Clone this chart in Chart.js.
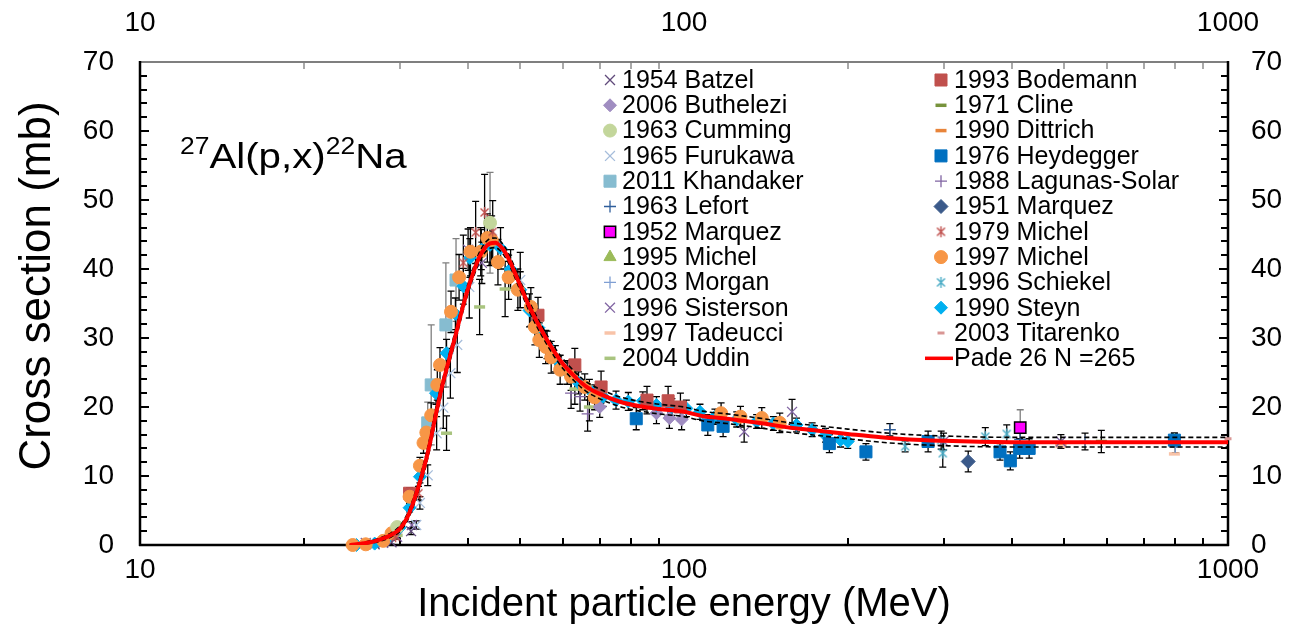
<!DOCTYPE html>
<html><head><meta charset="utf-8">
<script src="https://cdn.jsdelivr.net/npm/chart.js@4.4.1/dist/chart.umd.min.js"></script>
<style>html,body{margin:0;padding:0;background:#fff;}canvas{display:block;}</style>
</head><body>
<canvas id="c" width="1296" height="630"></canvas>
<script>
// ---------- tick labels ----------
const xTickLabels = [10, 100, 1000];
const yTickLabels = [0, 10, 20, 30, 40, 50, 60, 70];

// ---------- experimental data (E in MeV, S in mb, D = half error) ----------
const batzelE = [27.0, 29.0, 31.5];
const batzelS = [0.1, 0.4, 2.0];
const batzelD = [0, 0.3, 0.5];

const buthE = [70, 89, 94, 99];
const buthS = [20.0, 19.1, 18.4, 18.2];
const buthD = [1.5, 1.5, 1.5, 1.5];

const cummingE = [29.7, 44.0];
const cummingS = [2.6, 46.7];
const cummingD = [0.5, 7.3];

const furuE = [32.2, 32.7, 33.8, 35.1, 36.1, 37.2, 38.3, 40.3, 50.0];
const furuS = [2.9, 6.1, 10.1, 16.2, 19.9, 24.9, 29.0, 37.4, 38.4];
const furuD = [0.6, 0.9, 1.5, 2.4, 3.0, 3.6, 4.0, 4.5, 4.0];

const khanE = [33.8, 34.3, 36.5, 38.1];
const khanS = [17.7, 23.2, 31.9, 38.4];
const khanD = [3.0, 8.7, 9.0, 6.0];

const lefortE = [239, 415];
const lefortS = [16.7, 15.3];
const lefortD = [0.9, 1.5];

const marq52E = [415];
const marq52S = [17.0];
const marq52D = [2.6];

const mich95E = [797];
const mich95S = [15.2];
const mich95D = [1.0];

const morganE = [546, 800];
const morganS = [15.0, 14.2];
const morganD = [1.2, 0.8];

const sistE = [26.0, 28.0, 29.7, 31.6, 40.1, 42.5, 129, 158, 300, 493];
const sistS = [0.3, 0.3, 1.2, 2.9, 42.8, 40.9, 16.4, 19.3, 15.0, 15.0];
const sistD = [0.2, 0.2, 0.3, 0.5, 3.0, 3.0, 1.5, 1.8, 1.2, 1.0];

const tadE = [493, 797];
const tadS = [14.3, 13.2];
const tadD = [0, 0];

const uddinE = [29.7, 36.6, 42.1, 46.9, 63, 67];
const uddinS = [1.4, 16.2, 34.5, 37.1, 22.6, 20.0];
const uddinD = [0.3, 2.5, 4.0, 4.0, 2.2, 2.0];

const bodeE = [31.3, 53.9, 63, 70.4, 85.5, 93.5, 98.5];
const bodeS = [7.5, 33.3, 26.1, 22.9, 21.0, 20.9, 20.0];
const bodeD = [0.8, 2.6, 2.4, 2.3, 2.0, 2.1, 2.0];

const clineE = [585];
const clineS = [15.0];
const clineD = [1.6];

const dittE = [493, 800];
const dittS = [14.6, 15.6];
const dittD = [0, 0];

const heydE = [81.7, 110.6, 118, 185, 216, 281, 381, 398, 414, 431, 797];
const heydS = [18.3, 17.4, 17.2, 14.7, 13.5, 15.0, 13.5, 12.2, 14.0, 14.0, 15.2];
const heydD = [1.6, 1.5, 1.5, 1.3, 1.2, 1.5, 1.2, 1.3, 1.4, 1.4, 1.0];

const lagE = [62, 64.4, 66.5];
const lagS = [22.0, 21.5, 19.0];
const lagD = [2.2, 2.1, 2.5];

const marq51E = [333];
const marq51S = [12.1];
const marq51D = [1.5];

const mich79E = [29.5, 32.5, 39.3, 41.4, 43.0, 44.5];
const mich79S = [1.2, 7.5, 40.9, 45.3, 48.2, 45.4];
const mich79D = [0.3, 1.0, 4.0, 4.5, 5.5, 4.5];

const mich97E = [24.6, 26.0, 28.0, 29.0, 31.3, 32.7, 33.2, 33.6, 34.3, 35.2, 35.6, 37.3, 38.6, 40.5, 42.3, 43.5, 44.3, 45.5, 47.6, 49.5, 52.3, 53.2, 54.2, 55.7, 57.0, 59.2, 62.0, 65.7, 68.5, 117, 127, 139, 150];
const mich97S = [0.0, 0.1, 0.6, 1.7, 7.0, 11.5, 14.8, 16.3, 18.8, 23.2, 26.1, 33.8, 38.8, 42.5, 42.5, 44.5, 44.2, 41.0, 38.8, 37.0, 34.5, 31.6, 29.7, 28.7, 27.2, 25.4, 24.4, 22.9, 21.4, 19.1, 18.6, 18.4, 17.7];
const mich97D = [0.2, 0.2, 0.3, 0.4, 0.9, 1.2, 1.5, 1.6, 1.8, 2.2, 2.5, 3.0, 3.3, 3.5, 3.5, 3.5, 3.5, 3.3, 3.2, 3.0, 2.8, 2.6, 2.5, 2.4, 2.3, 2.1, 2.0, 1.9, 1.8, 1.5, 1.5, 1.5, 1.4];

const schE = [255, 297, 299, 358, 392];
const schS = [14.3, 15.2, 13.3, 15.7, 16.1];
const schD = [0.8, 1.3, 2.0, 1.3, 1.3];

const steynE = [25.0, 27.0, 28.5, 30.0, 31.3, 32.7, 33.8, 35.0, 36.6, 38.0, 39.3, 40.4, 42.4, 44.0, 46.0, 48.0, 50.0, 52.0, 54.0, 56.0, 58.0, 61.0, 64.0, 67.0, 71.0, 75.0, 79.0, 84.0, 89.0, 95.0, 101, 107, 114, 125, 136, 146, 161, 172, 182, 194, 200];
const steynS = [0.0, 0.2, 1.0, 2.5, 5.4, 9.9, 16.2, 22.0, 27.8, 33.5, 37.5, 41.6, 42.8, 43.5, 43.0, 40.0, 37.0, 34.0, 31.5, 29.0, 27.0, 25.0, 23.5, 22.5, 21.5, 21.0, 20.8, 20.9, 20.3, 20.0, 19.8, 19.3, 18.6, 18.2, 17.9, 17.6, 17.4, 16.7, 15.9, 15.2, 15.0];
const steynD = [0.1, 0.2, 0.3, 0.4, 0.6, 0.9, 1.3, 1.6, 2.0, 2.3, 2.6, 2.8, 2.9, 3.0, 3.0, 2.8, 2.6, 2.4, 2.2, 2.0, 1.9, 1.7, 1.6, 1.5, 1.4, 1.3, 1.3, 1.3, 1.2, 1.2, 1.2, 1.1, 1.1, 1.1, 1.0, 1.0, 1.0, 1.0, 1.0, 1.0, 1.0];

const titE = [1000];
const titS = [15.4];
const titD = [0];

// ---------- Pade fit and its confidence band ----------
const padeE = [24.3, 25, 26, 27, 28, 29, 30, 31, 32, 33, 34, 35, 36, 37, 38, 39, 40, 41, 42, 43, 44, 45, 46, 47, 48, 50, 52, 55, 58, 60, 63, 66, 70, 76, 83, 90, 100, 108, 120, 140, 157, 180, 200, 230, 260, 300, 350, 400, 500, 700, 1000];
const padeS = [0.0, 0.1, 0.3, 0.55, 0.95, 1.5, 2.3, 4.0, 6.8, 10.2, 14.2, 19.0, 23.3, 26.9, 30.3, 33.8, 36.9, 39.5, 41.6, 43.0, 43.7, 43.8, 43.3, 42.3, 40.9, 37.6, 34.5, 30.8, 27.8, 26.2, 24.4, 23.0, 21.9, 20.8, 20.1, 19.7, 19.3, 18.7, 18.3, 17.6, 17.0, 16.5, 16.1, 15.6, 15.3, 15.1, 14.95, 14.9, 14.9, 14.9, 14.9];
const bandHiS = [0.1, 0.2, 0.45, 0.75, 1.2, 1.8, 2.7, 4.5, 7.4, 10.9, 15.0, 20.0, 24.0, 27.6, 31.1, 34.5, 37.6, 40.2, 42.3, 43.7, 44.4, 44.5, 44.0, 43.0, 41.6, 38.3, 35.2, 31.5, 28.5, 26.9, 25.1, 23.7, 22.6, 21.5, 20.8, 20.4, 20.0, 19.4, 19.0, 18.3, 17.7, 17.2, 16.8, 16.3, 16.0, 15.8, 15.65, 15.6, 15.6, 15.6, 15.6];
const bandLoS = [0.0, 0.0, 0.15, 0.35, 0.7, 1.2, 1.9, 3.5, 6.2, 9.5, 13.4, 18.2, 22.5, 26.2, 29.5, 33.1, 36.2, 38.8, 40.9, 42.3, 43.0, 43.1, 42.6, 41.6, 40.2, 36.9, 33.8, 30.1, 27.1, 25.5, 23.7, 22.3, 21.2, 20.1, 19.4, 19.0, 18.6, 18.0, 17.6, 16.9, 16.3, 15.8, 15.4, 14.9, 14.6, 14.4, 14.25, 14.2, 14.2, 14.2, 14.2];

// ---------- styling ----------
const FONT = "'Liberation Sans', Arial, sans-serif";
function starImg(color) {
  const c = document.createElement('canvas'); c.width = 13; c.height = 13;
  const g = c.getContext('2d'); g.strokeStyle = color; g.lineWidth = 1.4;
  g.beginPath(); g.moveTo(2.5, 2.5); g.lineTo(10.5, 10.5); g.moveTo(10.5, 2.5); g.lineTo(2.5, 10.5);
  g.moveTo(6.5, 1); g.lineTo(6.5, 12); g.stroke(); return c;
}
const series = [
  {label:'1954 Batzel', E:batzelE, S:batzelS, D:batzelD, ps:'crossRot', r:7, c:'#604a7b', bw:1.3, order:6},
  {label:'2006 Buthelezi', E:buthE, S:buthS, D:buthD, ps:'rectRot', r:6.5, c:'#a08dc1', bw:1, order:6},
  {label:'1963 Cumming', E:cummingE, S:cummingS, D:cummingD, ps:'circle', r:6.5, c:'#c3d69b', bw:1, order:3, ec:'#7f7f7f'},
  {label:'1965 Furukawa', E:furuE, S:furuS, D:furuD, ps:'crossRot', r:7, c:'#a6bddb', bw:1.3, order:6},
  {label:'2011 Khandaker', E:khanE, S:khanS, D:khanD, ps:'rect', r:8.5, c:'#86bcd0', bw:1, order:6, ec:'#7f7f7f'},
  {label:'1963 Lefort', E:lefortE, S:lefortS, D:lefortD, ps:'cross', r:6, c:'#2f5e9b', bw:1.3, order:6},
  {label:'1952 Marquez', E:marq52E, S:marq52S, D:marq52D, ps:'rect', r:8, c:'#ff00ff', bc:'#000', bw:1.5, order:2, ec:'#7f7f7f'},
  {label:'1995 Michel', E:mich95E, S:mich95S, D:mich95D, ps:'triangle', r:7, c:'#9bbb59', bw:1, order:6},
  {label:'2003 Morgan', E:morganE, S:morganS, D:morganD, ps:'cross', r:6, c:'#7f9fd3', bw:1.3, order:6},
  {label:'1996 Sisterson', E:sistE, S:sistS, D:sistD, ps:'crossRot', r:7, c:'#8064a2', bw:1.3, order:6},
  {label:'1997 Tadeucci', E:tadE, S:tadS, D:tadD, ps:'line', r:5.5, c:'#f8c3a8', bw:3.5, order:6},
  {label:'2004 Uddin', E:uddinE, S:uddinS, D:uddinD, ps:'line', r:5.5, c:'#a9c47f', bw:3.5, order:6},
  {label:'1993 Bodemann', E:bodeE, S:bodeS, D:bodeD, ps:'rect', r:8.5, c:'#c0504d', bw:1, order:5},
  {label:'1971 Cline', E:clineE, S:clineS, D:clineD, ps:'line', r:5.5, c:'#77933c', bw:3.5, order:6},
  {label:'1990 Dittrich', E:dittE, S:dittS, D:dittD, ps:'line', r:5.5, c:'#e8843a', bw:3.5, order:6},
  {label:'1976 Heydegger', E:heydE, S:heydS, D:heydD, ps:'rect', r:8.5, c:'#0070c0', bw:1, order:5},
  {label:'1988 Lagunas-Solar', E:lagE, S:lagS, D:lagD, ps:'cross', r:6, c:'#8064a2', bw:1.3, order:6},
  {label:'1951 Marquez', E:marq51E, S:marq51S, D:marq51D, ps:'rectRot', r:7, c:'#3b5a8a', bw:1, order:6},
  {label:'1979 Michel', E:mich79E, S:mich79S, D:mich79D, ps:starImg('#c0504d'), r:6, c:'#c0504d', bw:1.3, order:3},
  {label:'1997 Michel', E:mich97E, S:mich97S, D:mich97D, ps:'circle', r:6.5, c:'#f79646', bw:1, order:4},
  {label:'1996 Schiekel', E:schE, S:schS, D:schD, ps:starImg('#4bacc6'), r:6, c:'#4bacc6', bw:1.3, order:6},
  {label:'1990 Steyn', E:steynE, S:steynS, D:steynD, ps:'rectRot', r:6.5, c:'#00b0f0', bw:1, order:5},
  {label:'2003 Titarenko', E:titE, S:titS, D:titD, ps:'line', r:3.5, c:'#d99694', bw:3, order:6}
];

const datasets = series.map((s, i) => ({
  label: s.label,
  data: s.E.map((e, k) => ({x: e, y: s.S[k], d: s.D[k]})),
  showLine: false,
  pointStyle: s.ps,
  pointRadius: s.r,
  pointHoverRadius: s.r,
  backgroundColor: s.c,
  borderColor: s.bc || s.c,
  pointBorderWidth: s.bw,
  order: s.order,
  clip: 12,
  legendIdx: i,
  errColor: s.ec || '#000'
}));
datasets.push({
  label: 'Pade 26 N =265',
  data: padeE.map((e, k) => ({x: e, y: padeS[k]})),
  showLine: true, pointRadius: 0, borderColor: '#ff0000', borderWidth: 4,
  cubicInterpolationMode: 'monotone', order: 0, legendIdx: 23, isFit: true
});
datasets.push({
  label: 'band hi',
  data: padeE.map((e, k) => ({x: e, y: bandHiS[k]})),
  showLine: true, pointRadius: 0, borderColor: '#000', borderWidth: 1.6, borderDash: [5, 3],
  cubicInterpolationMode: 'monotone', order: 1
});
datasets.push({
  label: 'band lo',
  data: padeE.map((e, k) => ({x: e, y: bandLoS[k]})),
  showLine: true, pointRadius: 0, borderColor: '#000', borderWidth: 1.6, borderDash: [5, 3],
  cubicInterpolationMode: 'monotone', order: 1
});

// ---------- plugins ----------
const errorBars = {
  id: 'errorBars',
  beforeDatasetsDraw(chart) {
    const {ctx, chartArea: a} = chart;
    const xs = chart.scales.x, ys = chart.scales.y;
    ctx.save();
    ctx.beginPath(); ctx.rect(a.left, a.top, a.right - a.left, a.bottom - a.top); ctx.clip();
    chart.data.datasets.forEach(ds => {
      if (ds.legendIdx === undefined || ds.isFit) return;
      ctx.strokeStyle = ds.errColor; ctx.lineWidth = 1.3;
      ds.data.forEach(p => {
        if (!p.d) return;
        const px = xs.getPixelForValue(p.x);
        const y1 = ys.getPixelForValue(p.y + p.d), y2 = ys.getPixelForValue(Math.max(p.y - p.d, 0));
        ctx.beginPath();
        ctx.moveTo(px, y1); ctx.lineTo(px, y2);
        ctx.moveTo(px - 3.5, y1); ctx.lineTo(px + 3.5, y1);
        ctx.moveTo(px - 3.5, y2); ctx.lineTo(px + 3.5, y2);
        ctx.stroke();
      });
    });
    ctx.restore();
  }
};

const frame = {
  id: 'frame',
  beforeDatasetsDraw(chart) {
    const {ctx, chartArea: a} = chart;
    const xs = chart.scales.x, ys = chart.scales.y;
    ctx.save();
    const seg = (x1, y1, x2, y2) => { ctx.beginPath(); ctx.moveTo(x1, y1); ctx.lineTo(x2, y2); ctx.stroke(); };
    ctx.strokeStyle = '#000'; ctx.lineWidth = 2;
    for (let v = 0; v <= 70; v += 2) {
      const py = Math.round(ys.getPixelForValue(v));
      const len = v % 10 === 0 ? 9 : 7;
      seg(a.left, py, a.left + len, py);
      seg(a.right, py, a.right - len, py);
    }
    [10, 100].forEach(d => {
      for (let k = 2; k <= 9; k++) {
        const px = Math.round(xs.getPixelForValue(k * d));
        ctx.strokeStyle = '#000'; ctx.lineWidth = 2; seg(px, a.bottom, px, a.bottom - 7);
        ctx.strokeStyle = '#8c8c8c'; ctx.lineWidth = 1.5; seg(px, a.top, px, a.top + 7);
      }
    });
    ctx.strokeStyle = '#7f7f7f'; ctx.lineWidth = 2; seg(a.left, a.top, a.right, a.top);
    ctx.strokeStyle = '#000'; ctx.lineWidth = 2.5;
    seg(a.left, a.top - 1, a.left, a.bottom + 1);
    seg(a.right, a.top - 1, a.right, a.bottom + 1);
    seg(a.left - 1, a.bottom, a.right + 1, a.bottom);
    ctx.restore();
  }
};

const overlay = {
  id: 'overlay',
  afterDraw(chart) {
    const {ctx, chartArea: a} = chart;
    ctx.save();
    ctx.fillStyle = '#000';
    ctx.textAlign = 'center'; ctx.textBaseline = 'middle';
    ctx.font = `40px ${FONT}`;
    ctx.fillText('Incident particle energy (MeV)', (a.left + a.right) / 2, 605);
    ctx.font = `44px ${FONT}`;
    ctx.save(); ctx.translate(38, 286); ctx.rotate(-Math.PI / 2);
    ctx.fillText('Cross section (mb)', 0, 0); ctx.restore();
    // reaction label (slightly widened like the reference)
    ctx.save(); ctx.translate(180, 0); ctx.scale(1.15, 1);
    ctx.textAlign = 'left'; ctx.textBaseline = 'alphabetic';
    let x = 0;
    const part = (t, size, base) => { ctx.font = `${size}px ${FONT}`; ctx.fillText(t, x, base); x += ctx.measureText(t).width; };
    part('27', 23, 154); part('Al(p,x)', 35, 168); part('22', 23, 154); part('Na', 35, 168);
    ctx.restore();
    // legend
    ctx.font = `25px ${FONT}`; ctx.textAlign = 'left'; ctx.textBaseline = 'middle';
    chart.data.datasets.forEach(ds => {
      if (ds.legendIdx === undefined) return;
      const col = ds.legendIdx < 12 ? 0 : 1, row = ds.legendIdx % 12;
      const my = 80 + row * 25.3;
      const mx = col ? 941 : 610, tx = col ? 954 : 622;
      if (ds.isFit) {
        ctx.strokeStyle = ds.borderColor; ctx.lineWidth = 3.5;
        ctx.beginPath(); ctx.moveTo(925, my); ctx.lineTo(953, my); ctx.stroke();
      } else {
        ctx.fillStyle = ds.backgroundColor; ctx.strokeStyle = ds.borderColor; ctx.lineWidth = ds.pointBorderWidth;
        Chart.helpers.drawPoint(ctx, {pointStyle: ds.pointStyle, radius: ds.pointRadius, borderWidth: ds.pointBorderWidth, rotation: 0}, mx, my);
      }
      ctx.fillStyle = '#000';
      ctx.fillText(ds.label, tx, my + 1);
    });
    ctx.restore();
  }
};

const tickFont = {family: FONT, size: 28};
const logTicks = s => { s.ticks = xTickLabels.map(v => ({value: v})); };
const linTicks = s => { s.ticks = yTickLabels.map(v => ({value: v})); };

new Chart(document.getElementById('c'), {
  type: 'scatter',
  data: {datasets},
  options: {
    responsive: false, devicePixelRatio: 1, animation: false,
    layout: {padding: 0},
    plugins: {legend: {display: false}, tooltip: {enabled: false}},
    scales: {
      x: {type: 'logarithmic', position: 'bottom', min: 10, max: 1000,
          afterBuildTicks: logTicks, afterFit: s => { s.height = 85; },
          grid: {display: false, drawTicks: false}, border: {display: false},
          ticks: {font: tickFont, color: '#000', padding: 8, maxRotation: 0, autoSkip: false, callback: v => String(v)}},
      x2: {type: 'logarithmic', position: 'top', min: 10, max: 1000,
          afterBuildTicks: logTicks, afterFit: s => { s.height = 62; },
          grid: {display: false, drawTicks: false}, border: {display: false},
          ticks: {font: tickFont, color: '#000', padding: 22, maxRotation: 0, autoSkip: false, callback: v => String(v)}},
      y: {type: 'linear', position: 'left', min: 0, max: 70,
          afterBuildTicks: linTicks, afterFit: s => { s.width = 140; },
          grid: {display: false, drawTicks: false}, border: {display: false},
          ticks: {font: tickFont, color: '#000', padding: 26}},
      y2: {type: 'linear', position: 'right', min: 0, max: 70,
          afterBuildTicks: linTicks, afterFit: s => { s.width = 68; },
          grid: {display: false, drawTicks: false}, border: {display: false},
          ticks: {font: tickFont, color: '#000', padding: 23}}
    }
  },
  plugins: [frame, errorBars, overlay]
});
</script>
</body></html>
